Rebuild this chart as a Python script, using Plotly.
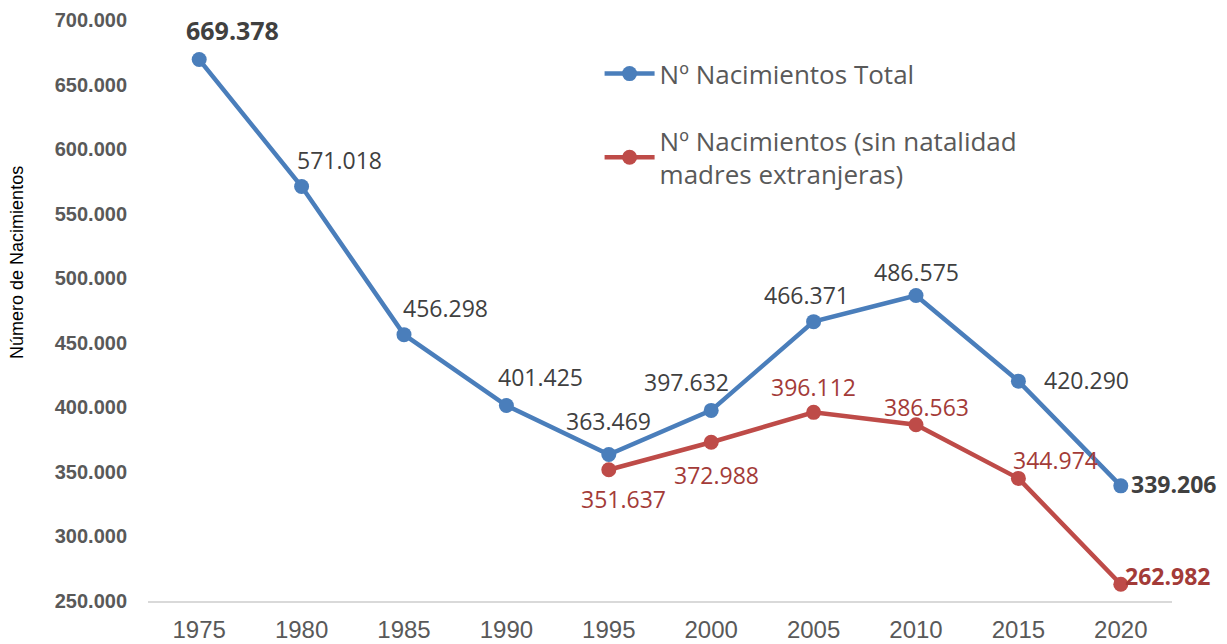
import plotly.graph_objects as go

years = ["1975", "1980", "1985", "1990", "1995", "2000", "2005", "2010", "2015", "2020"]
total = [669378, 571018, 456298, 401425, 363469, 397632, 466371, 486575, 420290, 339206]
sin_ext_years = ["1995", "2000", "2005", "2010", "2015", "2020"]
sin_ext = [351637, 372988, 396112, 386563, 344974, 262982]
y_ticks = [250000, 300000, 350000, 400000, 450000, 500000, 550000, 600000, 650000, 700000]

name_total = "Nº Nacimientos Total"
name_sin = "Nº Nacimientos (sin natalidad<br>madres extranjeras)"

# label placement for each point: (anchor, dx, dy, size) in pixels, +dy is downward
total_pos = [("center", 33, -30, 25), ("center", 38, -27, 23), ("center", 41, -27, 23), ("center", 34, -28, 23),
             ("center", 0, -34, 23), ("center", -25, -28, 23), ("center", -7, -27, 23), ("center", 0, -24, 23),
             ("left", 24, -1, 23), ("left", 8, -2, 23)]
sin_pos = [("center", 15, 29, 23), ("center", 5, 33, 23), ("center", 0, -25, 23), ("center", 10, -18, 23),
           ("center", 37, -18, 23), ("left", 2, -8, 23)]

def fmt(v):
    return f"{v:,}".replace(",", ".")

blue = "#4A7EBB"
red = "#BE4B48"
lab_font = "Open Sans, Noto Sans, sans-serif"

fig = go.Figure()
fig.add_trace(go.Scatter(x=years, y=total, mode="lines+markers", name=name_total, legendgroup="a",
                         line=dict(color=blue, width=4.5), marker=dict(color=blue, size=15)))
fig.add_trace(go.Scatter(x=sin_ext_years, y=sin_ext, mode="lines+markers", name=name_sin, legendgroup="b",
                         line=dict(color=red, width=4.5), marker=dict(color=red, size=15)))

ann = []
def add_labels(xs, vals, pos, color, bold_idx):
    for i, (x, v) in enumerate(zip(xs, vals)):
        bold = i in bold_idx
        t = fmt(v)
        anchor, dx, dy, sz = pos[i]
        ann.append(dict(x=years.index(x), y=v, xref="x", yref="y", text=f"<b>{t}</b>" if bold else t,
                        showarrow=False, xanchor=anchor, xshift=dx, yshift=-dy,
                        font=dict(family=lab_font, size=sz, color=color)))

add_labels(years, total, total_pos, "#404040", (0, len(total) - 1))
add_labels(sin_ext_years, sin_ext, sin_pos, "#A33B38", (len(sin_ext) - 1,))

ann.append(dict(x=-0.139, y=0.583, xref="paper", yref="paper", text="Número de Nacimientos", textangle=-90,
                showarrow=False, font=dict(family="Liberation Sans, Arial", size=18, color="black")))

# the page body adds an 8px offset, so the figure is sized/margined to compensate
fig.update_layout(
    width=1219, height=636,
    margin=dict(l=140, r=55, t=12, b=43),
    paper_bgcolor="white", plot_bgcolor="white",
    annotations=ann,
    showlegend=True,
    legend=dict(x=0.441, y=0.948, xanchor="left", yanchor="top",
                font=dict(family=lab_font, size=26, color="#595959"),
                tracegroupgap=30, itemwidth=50, bgcolor="rgba(0,0,0,0)"),
    xaxis=dict(type="category", range=[-0.5, 9.5], showgrid=False, showline=True, automargin=False,
               linecolor="#D9D9D9", linewidth=2, ticks="outside", ticklen=6, tickcolor="white",
               tickfont=dict(family="Liberation Sans, Arial", size=24, color="#595959")),
    yaxis=dict(range=[250000, 700000], showgrid=False, showline=False, zeroline=False, automargin=False,
               tickvals=y_ticks, ticktext=[fmt(v) for v in y_ticks], ticks="outside", ticklen=16, tickcolor="white",
               tickfont=dict(family="Liberation Sans, Arial", size=20, color="#595959", weight="bold")),
)

fig.write_html("out.html")
